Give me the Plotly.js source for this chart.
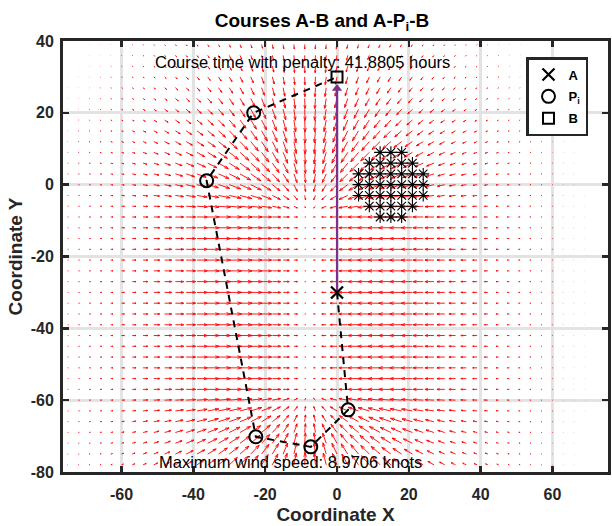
<!DOCTYPE html>
<html><head><meta charset="utf-8">
<script src="https://cdn.plot.ly/plotly-3.0.1.min.js"></script>
<style>html,body{margin:0;padding:0;background:#fff}#chart{width:612px;height:526px}</style>
</head><body><div id="chart"></div>
<script>
// ---- course data ----
const pointA = [0, -30];
const pointB = [0, 30];
const waypointX = [3.1, -7.3, -22.6, -36.3, -23.2];
const waypointY = [-62.7, -73.0, -70.2, 1.1, 20.0];

// ---- obstacle (penalty zone) ----
const obstacleX = [12,15,18, 9,12,15,18,21, 6,9,12,15,18,21,24, 6,9,12,15,18,21,24, 6,9,12,15,18,21,24, 9,12,15,18,21, 12,15,18];
const obstacleY = [9,9,9, 6,6,6,6,6, 3,3,3,3,3,3,3, 0,0,0,0,0,0,0, -3,-3,-3,-3,-3,-3,-3, -6,-6,-6,-6,-6, -9,-9,-9];

// ---- wind field (grid + sink-line model) ----
const windGridX = [-75, 75];
const windGridY = [-78, 39];
const windStep = 3;
const sinkLineX = -8;
const sinkLineY = [-58, -8];
const windSpread = 22;
const maxWindSpeed = 8.9706;

// ---- annotations / ticks ----
const courseTime = 41.8805;
const xTickVals = [-60, -40, -20, 0, 20, 40, 60];
const xTickText = ['-60', '-40', '-20', '0', '20', '40', '60'];
const yTickVals = [-80, -60, -40, -20, 0, 20, 40];
const yTickText = ['-80', '-60', '-40', '-20', '0', '20', '40'];

const FONT = '"Liberation Sans", Arial, Helvetica, sans-serif';

// build quiver
const arrowX = [], arrowY = [];
const maxLen = 0.9 * Math.sqrt(2) * windStep * 0.89; // autoscaled max arrow length (data units)
const headAlpha = 0.33, headBeta = 0.33;
for (let gy = windGridY[0]; gy <= windGridY[1] + 1e-9; gy += windStep) {
  for (let gx = windGridX[0]; gx <= windGridX[1] + 1e-9; gx += windStep) {
    const py = Math.min(Math.max(gy, sinkLineY[0]), sinkLineY[1]);
    const dx = sinkLineX - gx, dy = py - gy;
    const d = Math.hypot(dx, dy);
    let u = 0, v = 0;
    if (d > 1e-9) {
      const sp = maxWindSpeed * (d / windSpread) * Math.exp(0.5 - d * d / (2 * windSpread * windSpread));
      u = sp * dx / d; v = sp * dy / d;
    }
    const k = maxLen / maxWindSpeed;
    const ux = u * k, vy = v * k;
    const tx = gx + ux, ty = gy + vy;
    arrowX.push(gx, tx, null); arrowY.push(gy, ty, null);
    arrowX.push(tx - headAlpha * (ux + headBeta * vy), tx, tx - headAlpha * (ux - headBeta * vy), null);
    arrowY.push(ty - headAlpha * (vy - headBeta * ux), ty, ty - headAlpha * (vy + headBeta * ux), null);
  }
}

const pathX = [pointA[0], ...waypointX, pointB[0]];
const pathY = [pointA[1], ...waypointY, pointB[1]];

const traces = [
  {type: 'scatter', mode: 'lines', x: arrowX, y: arrowY, line: {color: '#ff0000', width: 0.9},
   hoverinfo: 'skip', showlegend: false},
  {type: 'scatter', mode: 'markers', x: obstacleX, y: obstacleY,
   marker: {symbol: 'asterisk-open', size: 10, color: '#000', line: {color: '#000', width: 1.1}},
   hoverinfo: 'skip', showlegend: false},
  {type: 'scatter', mode: 'lines', x: pathX, y: pathY,
   line: {color: '#000', width: 2, dash: '7px,6px'}, hoverinfo: 'skip', showlegend: false},
  {type: 'scatter', mode: 'lines', x: [pointA[0], pointB[0]], y: [pointA[1], pointB[1] - 3],
   line: {color: '#7E2F8E', width: 2.2}, hoverinfo: 'skip', showlegend: false},
  {type: 'scatter', mode: 'markers', x: [pointB[0]], y: [pointB[1] - 3.2],
   marker: {symbol: 'triangle-up', size: 9, color: '#7E2F8E', line: {width: 0}},
   hoverinfo: 'skip', showlegend: false},
  {type: 'scatter', mode: 'markers', name: 'A', legendgroup: 'a', x: [pointA[0]], y: [pointA[1]],
   marker: {symbol: 'x-thin-open', size: 12, color: '#000', line: {color: '#000', width: 2.2}}},
  {type: 'scatter', mode: 'markers', name: 'P<sub>i</sub>', legendgroup: 'p', x: waypointX, y: waypointY,
   marker: {symbol: 'circle-open', size: 13, color: '#000', line: {color: '#000', width: 2}}},
  {type: 'scatter', mode: 'markers', name: 'B', legendgroup: 'b', x: [pointB[0]], y: [pointB[1]],
   marker: {symbol: 'square-open', size: 11, color: '#000', line: {color: '#000', width: 2}}}
];

const axisCommon = {
  showline: true, linecolor: '#262626', linewidth: 3, mirror: 'ticks',
  ticks: 'inside', ticklen: 6, tickwidth: 2.5, tickcolor: '#262626',
  showgrid: true, gridcolor: '#e3e3e3', gridwidth: 3, zeroline: false,
  tickfont: {family: FONT, size: 16, weight: 'bold', color: '#262626'},
  tickmode: 'array'
};

const layout = {
  width: 612, height: 526,
  margin: {l: 63, r: 4, t: 41, b: 54},
  paper_bgcolor: '#fff', plot_bgcolor: '#fff',
  title: {text: 'Courses A-B and A-P<sub>i</sub>-B',
          font: {family: FONT, size: 19, weight: 'bold', color: '#000'},
          x: 322 / 612, xref: 'container', xanchor: 'center',
          y: 1 - 27 / 526, yref: 'container', yanchor: 'bottom'},
  xaxis: Object.assign({}, axisCommon, {
    range: [-76.29, 75.45], tickvals: xTickVals, ticktext: xTickText, ticklabelstandoff: 6,
    title: {text: 'Coordinate X', font: {family: FONT, size: 19, weight: 'bold', color: '#262626'}, standoff: 6}
  }),
  yaxis: Object.assign({}, axisCommon, {
    range: [-80, 40], tickvals: yTickVals, ticktext: yTickText, ticklabelstandoff: 3,
    title: {text: 'Coordinate Y', font: {family: FONT, size: 19, weight: 'bold', color: '#262626'}, standoff: 4}
  }),
  showlegend: true,
  legend: {x: (526 - 63) / 545, xanchor: 'left', y: (472 - 57) / 431, yanchor: 'top',
           bgcolor: '#fff', bordercolor: '#262626', borderwidth: 2.5, tracegroupgap: 2,
           font: {family: FONT, size: 13, weight: 'bold', color: '#000'}},
  annotations: [
    {x: -51.1, y: 34.2, xref: 'x', yref: 'y', xanchor: 'left', yanchor: 'middle', showarrow: false,
     text: 'Course time with penalty: ' + courseTime.toFixed(4) + ' hours',
     font: {family: FONT, size: 16.5, color: '#000'}},
    {x: -50.0, y: -77.1, xref: 'x', yref: 'y', xanchor: 'left', yanchor: 'middle', showarrow: false,
     text: 'Maximum wind speed: ' + maxWindSpeed.toFixed(4) + ' knots',
     font: {family: FONT, size: 16.5, color: '#000'}}
  ]
};

Plotly.newPlot('chart', traces, layout, {displayModeBar: false, staticPlot: true});
</script></body></html>
